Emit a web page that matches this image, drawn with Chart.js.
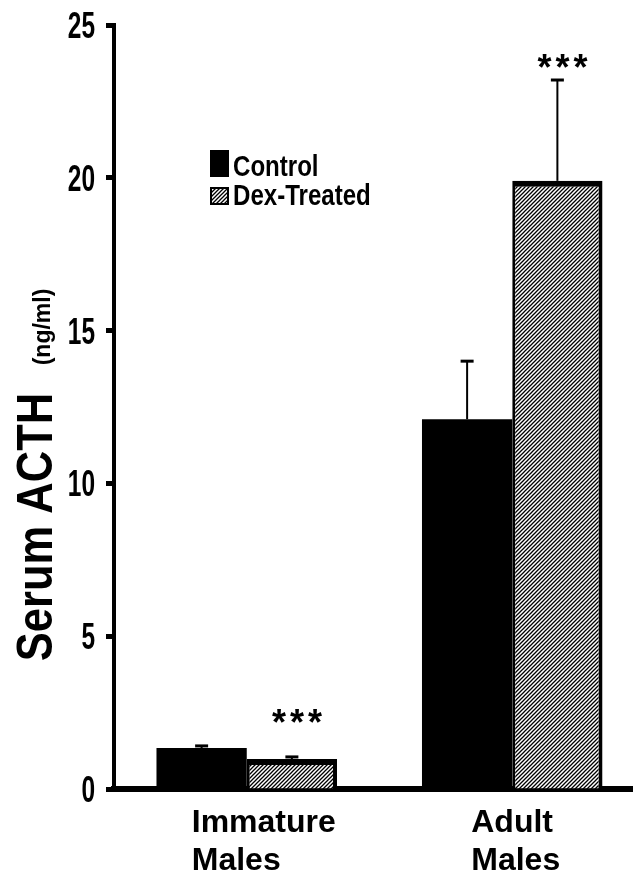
<!DOCTYPE html>
<html>
<head>
<meta charset="utf-8">
<script src="https://cdn.jsdelivr.net/npm/chart.js@4"></script>
<style>
  html, body { margin: 0; padding: 0; background: #fff; overflow: hidden; }
  #wrap { width: 660px; height: 874px; }
</style>
</head>
<body>
<div id="wrap"><canvas id="c" width="660" height="874"></canvas></div>
<script>
// ---- data ----
const categories = [['Immature', 'Males'], ['Adult', 'Males']];
const seriesNames = ['Control', 'Dex-Treated'];
const controlValues = [1.34, 12.1];
const controlErrors = [0.07, 1.9];
const dexValues = [0.98, 19.9];
const dexErrors = [0.07, 3.3];
const dexSignificance = ['***', '***'];
const yTickValues = [0, 5, 10, 15, 20, 25];
const yTitleMain = 'Serum ACTH';
const yTitleUnit = '(ng/ml)';

const FONT = "'Liberation Sans', Arial, Helvetica, sans-serif";

// hatch pattern
function makeHatch(ctx) {
  const pc = document.createElement('canvas');
  pc.width = 4; pc.height = 4;
  const g = pc.getContext('2d');
  g.fillStyle = '#fff';
  g.fillRect(0, 0, 4, 4);
  g.strokeStyle = '#000';
  g.lineWidth = 1.3;
  g.beginPath();
  g.moveTo(0, 4); g.lineTo(4, 0);
  g.moveTo(-1, 1); g.lineTo(1, -1);
  g.moveTo(3, 5); g.lineTo(5, 3);
  g.stroke();
  return ctx.createPattern(pc, 'repeat');
}

const canvas = document.getElementById('c');
const ctx0 = canvas.getContext('2d');
const hatch = makeHatch(ctx0);

const errorBars = {
  id: 'errorBars',
  afterDatasetsDraw(chart) {
    const ctx = chart.ctx;
    const y = chart.scales.y;
    const errs = [controlErrors, dexErrors];
    ctx.save();
    ctx.strokeStyle = '#000';
    chart.data.datasets.forEach((ds, di) => {
      const meta = chart.getDatasetMeta(di);
      meta.data.forEach((bar, i) => {
        const v = ds.data[i];
        const top = y.getPixelForValue(v + errs[di][i]);
        const base = y.getPixelForValue(v);
        ctx.lineWidth = 2;
        ctx.beginPath();
        ctx.moveTo(bar.x, base);
        ctx.lineTo(bar.x, top);
        ctx.stroke();
        ctx.lineWidth = 3;
        ctx.beginPath();
        ctx.moveTo(bar.x - 6.5, top);
        ctx.lineTo(bar.x + 6.5, top);
        ctx.stroke();
      });
    });
    // significance stars above dex bars
    const meta = chart.getDatasetMeta(1);
    const lift = [41, 19];
    ctx.fillStyle = '#000';
    ctx.font = 'bold 36px ' + FONT;
    ctx.textAlign = 'center';
    ctx.textBaseline = 'alphabetic';
    meta.data.forEach((bar, i) => {
      const s = dexSignificance[i];
      if (!s) return;
      const cy = y.getPixelForValue(dexValues[i] + dexErrors[i]) - lift[i];
      const cx = bar.x + 5;
      const n = s.length;
      for (let k = 0; k < n; k++) {
        ctx.fillText(s[k], cx + (k - (n - 1) / 2) * 18, cy + 19);
      }
    });
    ctx.restore();
  }
};

const decorations = {
  id: 'decorations',
  afterDraw(chart) {
    const ctx = chart.ctx;
    const y = chart.scales.y;
    const x = chart.scales.x;
    ctx.save();
    ctx.fillStyle = '#000';
    // y tick labels
    ctx.font = 'bold 36px ' + FONT;
    ctx.textAlign = 'right';
    ctx.textBaseline = 'alphabetic';
    y.ticks.forEach(t => {
      const py = y.getPixelForValue(t.value);
      ctx.save();
      ctx.translate(95, py + 13);
      ctx.scale(0.68, 1);
      ctx.fillText(String(t.value), 0, 0);
      ctx.restore();
    });
    // x category labels (left aligned blocks)
    const xOff = [-55, -41];
    ctx.font = 'bold 32px ' + FONT;
    ctx.textAlign = 'left';
    const bottom = chart.chartArea.bottom;
    categories.forEach((lines, i) => {
      const px = x.getPixelForValue(i) + xOff[i];
      lines.forEach((ln, k) => {
        ctx.fillText(ln, px, bottom + 43 + k * 38);
      });
    });
    // y title
    ctx.save();
    ctx.translate(52, 527);
    ctx.rotate(-Math.PI / 2);
    ctx.scale(0.87, 1);
    ctx.font = 'bold 50px ' + FONT;
    ctx.textAlign = 'center';
    ctx.fillText(yTitleMain, 0, 0);
    ctx.restore();
    ctx.save();
    ctx.translate(50, 327);
    ctx.rotate(-Math.PI / 2);
    ctx.font = 'bold 23px ' + FONT;
    ctx.textAlign = 'center';
    ctx.fillText(yTitleUnit, 0, 0);
    ctx.restore();
    // legend
    ctx.fillStyle = '#000';
    ctx.fillRect(210, 150, 19, 27);
    ctx.fillStyle = hatch;
    ctx.fillRect(210, 187, 19, 18);
    ctx.strokeStyle = '#000';
    ctx.lineWidth = 2;
    ctx.strokeRect(211, 188, 17, 16);
    ctx.fillStyle = '#000';
    ctx.font = 'bold 29px ' + FONT;
    ctx.textAlign = 'left';
    [176, 205].forEach((by, k) => {
      ctx.save();
      ctx.translate(233, by);
      ctx.scale(0.83, 1);
      ctx.fillText(seriesNames[k], 0, 0);
      ctx.restore();
    });
    ctx.restore();
  }
};

new Chart(canvas, {
  type: 'bar',
  data: {
    labels: categories,
    datasets: [
      {
        label: seriesNames[0],
        data: controlValues,
        backgroundColor: '#000',
        borderWidth: 0,
        categoryPercentage: 0.68,
        barPercentage: 1.0
      },
      {
        label: seriesNames[1],
        data: dexValues,
        backgroundColor: hatch,
        borderColor: '#000',
        borderWidth: { top: 6, left: 3, right: 4, bottom: 0 },
        borderSkipped: 'start',
        categoryPercentage: 0.68,
        barPercentage: 1.0
      }
    ]
  },
  options: {
    responsive: false,
    devicePixelRatio: 1,
    animation: false,
    layout: { padding: { left: 106, right: 15, top: 25, bottom: 85 } },
    plugins: {
      legend: { display: false },
      tooltip: { enabled: false },
      title: { display: false }
    },
    scales: {
      x: {
        type: 'category',
        offset: true,
        grid: { display: false },
        ticks: { display: false },
        border: { display: true, color: '#000', width: 6 },
        afterFit(s) { s.height = 0; }
      },
      y: {
        min: 0,
        max: 25,
        afterBuildTicks(s) { s.ticks = yTickValues.map(v => ({ value: v })); },
        ticks: { display: false },
        grid: {
          drawOnChartArea: false,
          drawTicks: true,
          tickLength: 8,
          tickWidth: 5,
          color: '#000'
        },
        border: { display: true, color: '#000', width: 4 },
        afterFit(s) { s.width = 8; }
      }
    }
  },
  plugins: [errorBars, decorations]
});
</script>
</body>
</html>
